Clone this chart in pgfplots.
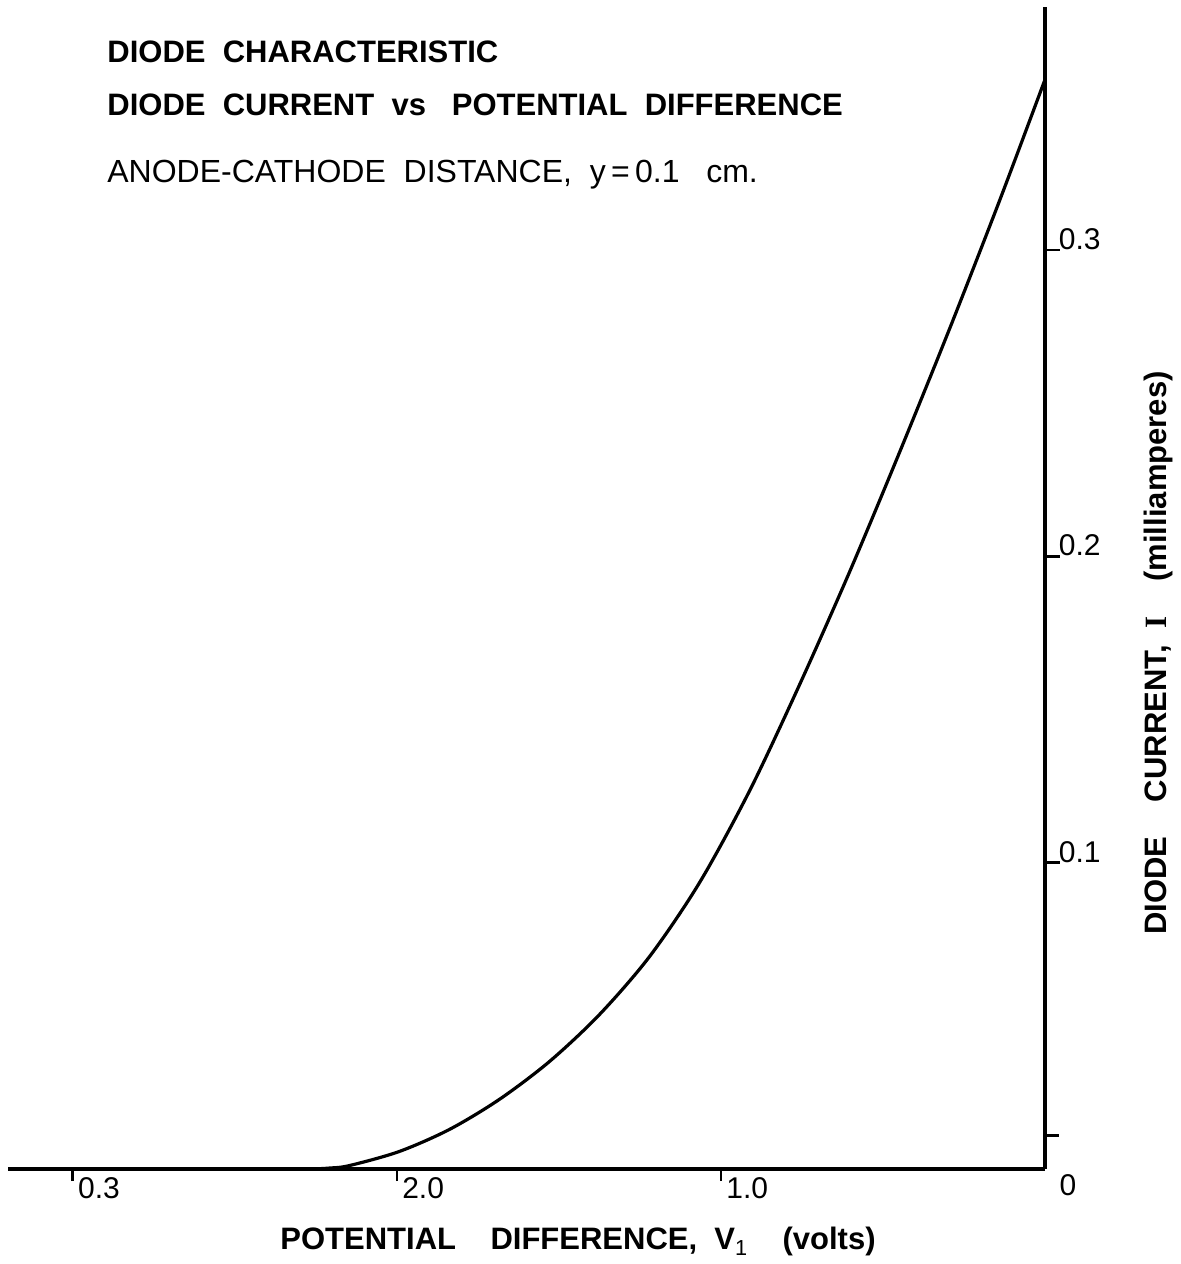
\documentclass[border=0pt]{standalone}
\usepackage{fontspec}
\setmainfont{Liberation Sans}
\newfontfamily\serifI{Liberation Serif}
\usepackage{pgfplots}
\pgfplotsset{compat=1.18}

% diode current (mA) against potential difference (V)
\pgfplotstableread{
V      I
2.301  0.0000
2.261  0.0000
2.209  0.0003
2.147  0.0011
1.993  0.0057
1.838  0.0129
1.684  0.0227
1.529  0.0351
1.375  0.0504
1.220  0.0694
1.066  0.0935
0.911  0.1236
0.757  0.1582
0.602  0.1952
0.448  0.2342
0.293  0.2747
0.139  0.3165
0.000  0.3557
}\diodedata

\begin{document}
\begin{tikzpicture}
\useasboundingbox (-4pt,-47.5pt) rectangle (586pt,584.5pt);
\begin{axis}[
  at={(0pt,0pt)}, anchor=south west,
  scale only axis, width=518.5pt, height=581pt,
  xmin=0, xmax=3.2, ymin=0, ymax=0.3794,
  x dir=reverse,
  axis x line=bottom, axis y line=right,
  axis line style={line width=1.9pt, -},
  xtick={1,2,3}, xticklabels={1.0,2.0,0.3},
  ytick={0.1,0.2,0.3}, yticklabels={0.1,0.2,0.3},
  extra y ticks={0.011}, extra y tick labels={},
  tick align=outside,
  xtick style={line width=1.3pt, black, /pgfplots/major tick length=6pt},
  ytick style={line width=1.3pt, black, /pgfplots/major tick length=7.5pt},
  extra y tick style={ytick style={/pgfplots/major tick length=7pt}},
  ticklabel style={font=\fontsize{15}{17}\selectfont},
  xticklabel style={anchor=north west, inner sep=0pt, xshift=2.5pt},
  yticklabel style={anchor=south west, inner sep=0pt, xshift=2.5pt},
  clip=false,
]
\addplot[black, line width=1.6pt, smooth] table[x=V, y=I] {\diodedata};
\end{axis}

% corner zero
\node[font=\fontsize{15}{17}\selectfont, inner sep=0pt] at (530pt,-8pt) {0};

% heading block
\begin{scope}[every node/.style={anchor=base west, inner sep=0pt}]
\node[font=\bfseries\fontsize{15.5}{18}\selectfont] at (49.5pt,553pt) {DIODE\ \ CHARACTERISTIC};
\node[font=\bfseries\fontsize{15.5}{18}\selectfont] at (49.5pt,526.5pt) {DIODE\ \ CURRENT\ \ vs\ \ \ POTENTIAL\ \ DIFFERENCE};
\node[font=\fontsize{16}{18}\selectfont] at (49.5pt,493pt) {ANODE-CATHODE\ \ DISTANCE,\ \ y\,=\,0.1\ \ \ cm.};
\end{scope}

% axis titles
\node[font=\bfseries\fontsize{15.5}{18}\selectfont, anchor=base west, inner sep=0pt] at (136pt,-40.5pt)
  {POTENTIAL\ \ \ \ DIFFERENCE,\ \ V$_{\mathrm{1}}$\ \ \ \ (volts)};
\node[font=\bfseries\fontsize{15.5}{18}\selectfont, rotate=90, anchor=base, inner sep=0pt] at (579pt,258pt)
  {DIODE\ \ \ \ CURRENT,\ \ {\serifI I}\ \ \ \ (milliamperes)};
\end{tikzpicture}
\end{document}
